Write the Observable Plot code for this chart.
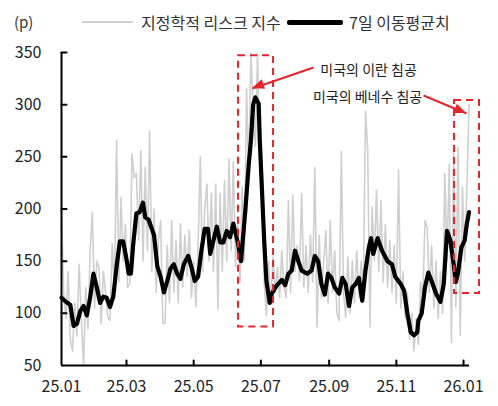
<!DOCTYPE html>
<html><head><meta charset="utf-8">
<script src="https://cdn.jsdelivr.net/npm/d3@7"></script>
<script src="https://cdn.jsdelivr.net/npm/@observablehq/plot@0.6"></script>
<style>
body{margin:0;background:#fff;font-family:"Noto Sans CJK KR","Noto Sans",sans-serif;}
#wrap{width:498px;}
#legend{position:relative;height:40px;font-size:16px;color:#333;}
#legend .t{position:absolute;white-space:nowrap;line-height:20px;top:12px;}
#legend .s{position:absolute;}
</style></head><body>
<div id="wrap"><div id="legend"></div><div id="chart"></div></div>
<script>
// ---- data ----
const unitLabel = "(p)";
const seriesNames = ["지정학적 리스크 지수", "7일 이동평균치"];
const startDate = "2025-01-01";
const riskStepDays = 2;
const riskValues = [198,120,95,140,75,64,110,78,147,95,50,125,85,160,197,105,150,144,90,140,
120,96,93,167,120,266,130,211,150,185,125,128,253,230,234,170,256,150,240,160,
275,140,200,120,170,189,90,91,165,110,189,120,170,110,186,125,175,135,180,115,
150,106,165,250,140,200,224,150,215,140,224,104,215,140,227,150,248,160,245,145,
190,130,221,150,315,230,349,298,260,349,240,224,130,98,150,110,154,120,144,115,
160,125,115,208,120,213,140,165,131,215,125,165,120,175,130,240,87,175,115,150,
179,110,189,120,160,100,93,255,120,96,154,100,150,110,160,115,150,120,294,256,
87,202,150,218,140,208,130,185,125,170,120,165,110,237,105,140,95,120,75,100,
64,95,70,130,115,189,183,120,165,105,150,95,140,100,234,150,243,72,259,106,
259,79,221,150,220,300];
const maDays = [0,3,8,11,14,17,20,23,26,29,32,35,38,41,44,47,50,53,56,59,61,63,65,68,71,74,76,79,81,84,87,90,93,96,99,102,105,108,111,115,118,121,124,127,130,133,135,138,141,144,147,150,153,156,160,163,167,170,172,174,176,179,180,182,184,186,189,191,195,200,203,206,209,212,215,218,223,227,230,233,236,239,242,245,248,252,255,258,261,264,267,270,273,276,279,281,283,287,291,296,300,303,308,311,314,317,320,323,324,327,330,333,336,340,344,347,350,353,356,358,360,363,366,368,370];
const maValues = [115,112,108,88,90,102,107,98,115,138,125,110,116,115,106,116,145,169,169,152,138,138,165,196,197,206,192,190,184,175,145,135,120,131,143,147,138,133,147,155,144,131,135,160,181,181,157,170,183,168,168,179,173,186,168,150,200,243,266,300,307,301,266,218,170,131,110,119,126,132,127,138,141,160,150,141,138,141,155,150,128,118,138,134,125,119,134,128,107,125,128,134,112,141,163,172,157,172,160,150,147,135,128,122,100,82,79,82,93,100,125,139,131,119,111,128,179,170,147,130,139,163,170,186,197];
const xTickDates = ["2025-01-01","2025-03-01","2025-05-01","2025-07-01","2025-09-01","2025-11-01","2026-01-01"];
const yTickValues = [50,100,150,200,250,300,350];
const xDomainDays = [0, 370.4];
// annotation boxes (day offsets, values)
const boxDay1 = [160.7, 356.8];
const boxDay2 = [192.5, 379.5];
const boxTop = [347, 304];
const boxBottom = [87, 119];
// annotations
const noteTexts = ["미국의 이란 침공", "미국의 베네수 침공"];
const noteDays = [235, 327.5];
const noteValues = [332.5, 307];
const noteAnchors = ["start", "end"];
const arrowFromDays = [228.8, 328.7];
const arrowFromValues = [335.6, 308.8];
const arrowToDays = [173.4, 367.7];
const arrowToValues = [315.5, 291.5];

// ---- build ----
const DAY = 864e5;
const t0 = Date.parse(startDate + "T00:00:00Z");
const toDate = d => new Date(t0 + d * DAY);
const risk = riskValues.map((v, i) => ({date: toDate(i * riskStepDays), value: v}));
const ma = maDays.map((d, i) => ({date: toDate(d), value: maValues[i]}));
const boxes = boxDay1.map((d, i) => ({x1: toDate(d), x2: toDate(boxDay2[i]), y1: boxBottom[i], y2: boxTop[i]}));
const notes = noteTexts.map((t, i) => ({text: t, date: toDate(noteDays[i]), value: noteValues[i], anchor: noteAnchors[i]}));
const arrows = arrowFromDays.map((d, i) => ({x1: toDate(d), y1: arrowFromValues[i], x2: toDate(arrowToDays[i]), y2: arrowToValues[i]}));
const xTicks = xTickDates.map(s => new Date(s + "T00:00:00Z"));
const x0 = toDate(xDomainDays[0]);
const RED = "#e3262d";
const FONT = '"Noto Sans CJK KR","Noto Sans",sans-serif';

// legend
const lg = document.getElementById("legend");
lg.innerHTML = `
<span class="t" style="left:14px;font-size:15px;">${unitLabel}</span>
<span class="s" style="left:82px;top:21px;width:51px;height:2px;background:#cfcfcf;"></span>
<span class="t" style="left:141px;">${seriesNames[0]}</span>
<span class="s" style="left:287px;top:20px;width:56px;height:5px;background:#000;border-radius:2px;"></span>
<span class="t" style="left:349px;">${seriesNames[1]}</span>`;

const tickShape = {draw(ctx, l) { ctx.moveTo(0, 0); ctx.lineTo(0, -l); }};

const chart = Plot.plot({
  width: 498, height: 366,
  marginTop: 12, marginBottom: 41, marginLeft: 61, marginRight: 29,
  style: {fontFamily: FONT, fontSize: "16px", color: "#222", background: "#fff"},
  x: {type: "utc", domain: [toDate(xDomainDays[0]), toDate(xDomainDays[1])]},
  y: {domain: [50, 350]},
  marks: [
    Plot.line(risk, {x: "date", y: "value", stroke: "#cfcfcf", strokeWidth: 1.6}),
    Plot.line(ma, {x: "date", y: "value", stroke: "#000", strokeWidth: 4.2, strokeLinejoin: "round", strokeLinecap: "round"}),
    Plot.rect(boxes, {x1: "x1", x2: "x2", y1: "y1", y2: "y2", fill: "none", stroke: RED, strokeWidth: 2, strokeDasharray: "7,5"}),
    Plot.link(arrows, {x1: "x1", y1: "y1", x2: "x2", y2: "y2", stroke: RED, strokeWidth: 2}),
    Plot.text(notes.filter(n => n.anchor === "start"), {x: "date", y: "value", text: "text", textAnchor: "start", fontSize: 14, fill: "#222"}),
    Plot.text(notes.filter(n => n.anchor === "end"), {x: "date", y: "value", text: "text", textAnchor: "end", fontSize: 14, fill: "#222"}),
    Plot.ruleX([x0], {stroke: "#000", strokeWidth: 2}),
    Plot.ruleY([50], {stroke: "#000", strokeWidth: 2}),
    Plot.vector(yTickValues.slice(1), {x: () => x0, y: d => d, length: 5, rotate: 90, anchor: "start", shape: tickShape, stroke: "#000", strokeWidth: 2}),
    Plot.vector(xTicks.slice(1), {x: d => d, y: () => 50, length: 5, rotate: 0, anchor: "start", shape: tickShape, stroke: "#000", strokeWidth: 2}),
    Plot.axisY({ticks: yTickValues, tickSize: 0, tickPadding: 20, label: null, fontSize: 16}),
    Plot.axisX({ticks: xTicks, tickSize: 0, tickPadding: 15, tickFormat: d3.utcFormat("%y.%m"), label: null, fontSize: 16})
  ]
});
document.getElementById("chart").appendChild(chart);

// filled arrowheads through the plot's scales
const sx = chart.scale("x"), sy = chart.scale("y");
const svg = d3.select(chart);
arrows.forEach(a => {
  const X1 = sx.apply(a.x1), Y1 = sy.apply(a.y1), X2 = sx.apply(a.x2), Y2 = sy.apply(a.y2);
  const dx = X2 - X1, dy = Y2 - Y1, L = Math.hypot(dx, dy);
  const ux = dx / L, uy = dy / L, nx = -uy, ny = ux;
  const len = 12, w = 5;
  const bx = X2 - ux * len, by = Y2 - uy * len;
  svg.append("polygon")
    .attr("points", `${X2},${Y2} ${bx + nx * w},${by + ny * w} ${bx - nx * w},${by - ny * w}`)
    .attr("fill", RED);
});
</script>
</body></html>
